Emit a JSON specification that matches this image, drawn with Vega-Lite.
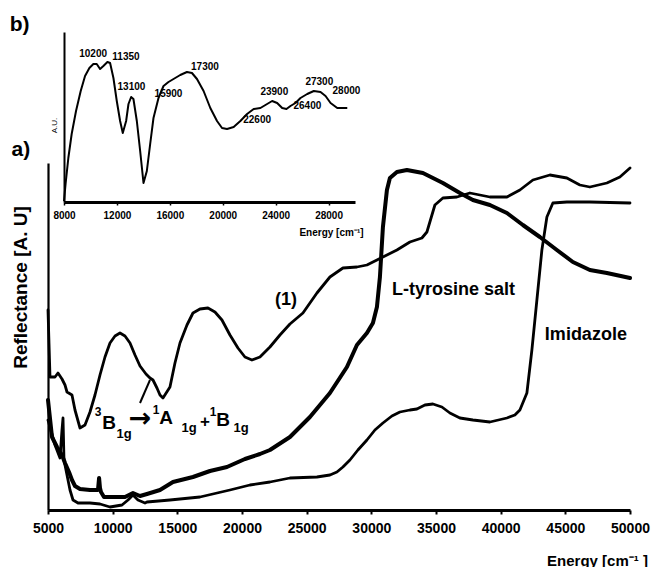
{
  "$schema": "https://vega.github.io/schema/vega-lite/v6.json",
  "width": 582,
  "height": 500,
  "autosize": {"type": "none"},
  "padding": {"left": 48, "top": 10, "right": 23, "bottom": 57},
  "background": "white",
  "config": {
    "view": {"stroke": null},
    "font": "Liberation Sans",
    "axis": {"grid": false, "domainColor": "black", "tickColor": "black", "labelColor": "black", "titleColor": "black", "labelFont": "Liberation Sans", "titleFont": "Liberation Sans"}
  },
  "datasets": {
    "main": [
      {"series": "(1)", "e": 5000, "r": 200}, {"series": "(1)", "e": 5155, "r": 133}, {"series": "(1)", "e": 5541, "r": 133}, {"series": "(1)", "e": 5773, "r": 137}, {"series": "(1)", "e": 6082, "r": 131}, {"series": "(1)", "e": 6314, "r": 125}, {"series": "(1)", "e": 6469, "r": 118}, {"series": "(1)", "e": 6855, "r": 115}, {"series": "(1)", "e": 7087, "r": 100}, {"series": "(1)", "e": 7474, "r": 82}, {"series": "(1)", "e": 7860, "r": 85}, {"series": "(1)", "e": 8247, "r": 98}, {"series": "(1)", "e": 8633, "r": 115}, {"series": "(1)", "e": 9020, "r": 135}, {"series": "(1)", "e": 9406, "r": 153}, {"series": "(1)", "e": 9793, "r": 167}, {"series": "(1)", "e": 10180, "r": 174}, {"series": "(1)", "e": 10566, "r": 177}, {"series": "(1)", "e": 10953, "r": 174}, {"series": "(1)", "e": 11340, "r": 167}, {"series": "(1)", "e": 11726, "r": 155}, {"series": "(1)", "e": 12113, "r": 144}, {"series": "(1)", "e": 12577, "r": 136}, {"series": "(1)", "e": 12885, "r": 132}, {"series": "(1)", "e": 13117, "r": 130}, {"series": "(1)", "e": 13426, "r": 122}, {"series": "(1)", "e": 13658, "r": 115}, {"series": "(1)", "e": 13890, "r": 112}, {"series": "(1)", "e": 14431, "r": 123}, {"series": "(1)", "e": 14817, "r": 147}, {"series": "(1)", "e": 15204, "r": 167}, {"series": "(1)", "e": 15745, "r": 185}, {"series": "(1)", "e": 16209, "r": 197}, {"series": "(1)", "e": 16750, "r": 201}, {"series": "(1)", "e": 17368, "r": 202}, {"series": "(1)", "e": 17909, "r": 198}, {"series": "(1)", "e": 18450, "r": 190}, {"series": "(1)", "e": 19069, "r": 175}, {"series": "(1)", "e": 19687, "r": 162}, {"series": "(1)", "e": 20228, "r": 153}, {"series": "(1)", "e": 20769, "r": 150}, {"series": "(1)", "e": 21388, "r": 153}, {"series": "(1)", "e": 22161, "r": 163}, {"series": "(1)", "e": 22934, "r": 175}, {"series": "(1)", "e": 23707, "r": 186}, {"series": "(1)", "e": 24712, "r": 197}, {"series": "(1)", "e": 25794, "r": 217}, {"series": "(1)", "e": 26799, "r": 233}, {"series": "(1)", "e": 27804, "r": 242}, {"series": "(1)", "e": 28886, "r": 243}, {"series": "(1)", "e": 29659, "r": 245}, {"series": "(1)", "e": 30432, "r": 250}, {"series": "(1)", "e": 30896, "r": 253}, {"series": "(1)", "e": 31978, "r": 260}, {"series": "(1)", "e": 32983, "r": 268}, {"series": "(1)", "e": 33910, "r": 272}, {"series": "(1)", "e": 34297, "r": 278}, {"series": "(1)", "e": 34915, "r": 305}, {"series": "(1)", "e": 35534, "r": 312}, {"series": "(1)", "e": 36616, "r": 313}, {"series": "(1)", "e": 37621, "r": 317}, {"series": "(1)", "e": 39167, "r": 313}, {"series": "(1)", "e": 40481, "r": 313}, {"series": "(1)", "e": 41486, "r": 320}, {"series": "(1)", "e": 42491, "r": 330}, {"series": "(1)", "e": 43806, "r": 335}, {"series": "(1)", "e": 45120, "r": 332}, {"series": "(1)", "e": 46124, "r": 325}, {"series": "(1)", "e": 46898, "r": 323}, {"series": "(1)", "e": 48212, "r": 327}, {"series": "(1)", "e": 49217, "r": 333}, {"series": "(1)", "e": 50000, "r": 342},
      {"series": "L-tyrosine salt", "e": 5000, "r": 110}, {"series": "L-tyrosine salt", "e": 5309, "r": 73}, {"series": "L-tyrosine salt", "e": 5696, "r": 63}, {"series": "L-tyrosine salt", "e": 6082, "r": 55}, {"series": "L-tyrosine salt", "e": 6314, "r": 47}, {"series": "L-tyrosine salt", "e": 6623, "r": 38}, {"series": "L-tyrosine salt", "e": 6855, "r": 30}, {"series": "L-tyrosine salt", "e": 7087, "r": 24}, {"series": "L-tyrosine salt", "e": 7474, "r": 21}, {"series": "L-tyrosine salt", "e": 8247, "r": 20}, {"series": "L-tyrosine salt", "e": 8865, "r": 20}, {"series": "L-tyrosine salt", "e": 8950, "r": 32}, {"series": "L-tyrosine salt", "e": 9020, "r": 22}, {"series": "L-tyrosine salt", "e": 9097, "r": 18}, {"series": "L-tyrosine salt", "e": 9329, "r": 13}, {"series": "L-tyrosine salt", "e": 10180, "r": 13}, {"series": "L-tyrosine salt", "e": 10953, "r": 13}, {"series": "L-tyrosine salt", "e": 11571, "r": 17}, {"series": "L-tyrosine salt", "e": 12113, "r": 14}, {"series": "L-tyrosine salt", "e": 12654, "r": 16}, {"series": "L-tyrosine salt", "e": 13658, "r": 20}, {"series": "L-tyrosine salt", "e": 14663, "r": 28}, {"series": "L-tyrosine salt", "e": 16209, "r": 33}, {"series": "L-tyrosine salt", "e": 17523, "r": 39}, {"series": "L-tyrosine salt", "e": 18837, "r": 43}, {"series": "L-tyrosine salt", "e": 20228, "r": 51}, {"series": "L-tyrosine salt", "e": 21388, "r": 56}, {"series": "L-tyrosine salt", "e": 22161, "r": 60}, {"series": "L-tyrosine salt", "e": 23707, "r": 73}, {"series": "L-tyrosine salt", "e": 25253, "r": 93}, {"series": "L-tyrosine salt", "e": 26799, "r": 117}, {"series": "L-tyrosine salt", "e": 28113, "r": 143}, {"series": "L-tyrosine salt", "e": 28886, "r": 165}, {"series": "L-tyrosine salt", "e": 29659, "r": 177}, {"series": "L-tyrosine salt", "e": 30123, "r": 187}, {"series": "L-tyrosine salt", "e": 30432, "r": 203}, {"series": "L-tyrosine salt", "e": 30664, "r": 233}, {"series": "L-tyrosine salt", "e": 30896, "r": 283}, {"series": "L-tyrosine salt", "e": 31205, "r": 320}, {"series": "L-tyrosine salt", "e": 31437, "r": 332}, {"series": "L-tyrosine salt", "e": 31978, "r": 338}, {"series": "L-tyrosine salt", "e": 32751, "r": 340}, {"series": "L-tyrosine salt", "e": 33988, "r": 337}, {"series": "L-tyrosine salt", "e": 35534, "r": 327}, {"series": "L-tyrosine salt", "e": 36848, "r": 317}, {"series": "L-tyrosine salt", "e": 37853, "r": 310}, {"series": "L-tyrosine salt", "e": 39167, "r": 305}, {"series": "L-tyrosine salt", "e": 40481, "r": 297}, {"series": "L-tyrosine salt", "e": 41718, "r": 285}, {"series": "L-tyrosine salt", "e": 43032, "r": 273}, {"series": "L-tyrosine salt", "e": 44346, "r": 260}, {"series": "L-tyrosine salt", "e": 45583, "r": 248}, {"series": "L-tyrosine salt", "e": 46898, "r": 240}, {"series": "L-tyrosine salt", "e": 48212, "r": 237}, {"series": "L-tyrosine salt", "e": 50000, "r": 232},
      {"series": "Imidazole", "e": 5000, "r": 90}, {"series": "Imidazole", "e": 5541, "r": 65}, {"series": "Imidazole", "e": 5927, "r": 52}, {"series": "Imidazole", "e": 6082, "r": 80}, {"series": "Imidazole", "e": 6160, "r": 92}, {"series": "Imidazole", "e": 6237, "r": 50}, {"series": "Imidazole", "e": 6469, "r": 35}, {"series": "Imidazole", "e": 6701, "r": 20}, {"series": "Imidazole", "e": 6933, "r": 10}, {"series": "Imidazole", "e": 7319, "r": 7}, {"series": "Imidazole", "e": 8247, "r": 7}, {"series": "Imidazole", "e": 9020, "r": 6}, {"series": "Imidazole", "e": 9793, "r": 3}, {"series": "Imidazole", "e": 10721, "r": 5}, {"series": "Imidazole", "e": 11185, "r": 10}, {"series": "Imidazole", "e": 11571, "r": 15}, {"series": "Imidazole", "e": 11958, "r": 10}, {"series": "Imidazole", "e": 12500, "r": 7}, {"series": "Imidazole", "e": 12654, "r": 8}, {"series": "Imidazole", "e": 14431, "r": 10}, {"series": "Imidazole", "e": 16750, "r": 13}, {"series": "Imidazole", "e": 19069, "r": 20}, {"series": "Imidazole", "e": 20614, "r": 25}, {"series": "Imidazole", "e": 22161, "r": 28}, {"series": "Imidazole", "e": 23707, "r": 32}, {"series": "Imidazole", "e": 25794, "r": 33}, {"series": "Imidazole", "e": 26799, "r": 35}, {"series": "Imidazole", "e": 27340, "r": 38}, {"series": "Imidazole", "e": 27804, "r": 43}, {"series": "Imidazole", "e": 28345, "r": 50}, {"series": "Imidazole", "e": 28963, "r": 60}, {"series": "Imidazole", "e": 29659, "r": 70}, {"series": "Imidazole", "e": 30277, "r": 80}, {"series": "Imidazole", "e": 30896, "r": 87}, {"series": "Imidazole", "e": 31591, "r": 94}, {"series": "Imidazole", "e": 32210, "r": 98}, {"series": "Imidazole", "e": 32983, "r": 100}, {"series": "Imidazole", "e": 33524, "r": 101}, {"series": "Imidazole", "e": 34142, "r": 105}, {"series": "Imidazole", "e": 34761, "r": 106}, {"series": "Imidazole", "e": 35456, "r": 103}, {"series": "Imidazole", "e": 36075, "r": 97}, {"series": "Imidazole", "e": 36848, "r": 92}, {"series": "Imidazole", "e": 37853, "r": 90}, {"series": "Imidazole", "e": 39167, "r": 88}, {"series": "Imidazole", "e": 40481, "r": 92}, {"series": "Imidazole", "e": 41100, "r": 95}, {"series": "Imidazole", "e": 41486, "r": 100}, {"series": "Imidazole", "e": 42028, "r": 117}, {"series": "Imidazole", "e": 42414, "r": 160}, {"series": "Imidazole", "e": 42801, "r": 210}, {"series": "Imidazole", "e": 43187, "r": 260}, {"series": "Imidazole", "e": 43574, "r": 293}, {"series": "Imidazole", "e": 44037, "r": 307}, {"series": "Imidazole", "e": 45120, "r": 308}, {"series": "Imidazole", "e": 46898, "r": 308}, {"series": "Imidazole", "e": 50000, "r": 307}
    ],
    "labels": [
      {"t": "(1)", "e": 22547, "r": 210},
      {"t": "L-tyrosine salt", "e": 31591, "r": 220},
      {"t": "Imidazole", "e": 43418, "r": 175}
    ],
    "panels": [
      {"t": "a)", "e": 2900, "r": 360},
      {"t": "b)", "e": 2800, "r": 485}
    ],
    "leader": [
      {"e": 12113, "r": 107, "e2": 12885, "r2": 130}
    ],
    "trans": [
      {"e": 8865, "r": 90}
    ],
    "inset": [
      {"e": 8000, "a": 1}, {"e": 8126, "a": 19}, {"e": 8328, "a": 44}, {"e": 8580, "a": 68}, {"e": 8909, "a": 91}, {"e": 9263, "a": 111}, {"e": 9591, "a": 126}, {"e": 9919, "a": 134}, {"e": 10222, "a": 138}, {"e": 10475, "a": 138}, {"e": 10727, "a": 133}, {"e": 10977, "a": 136}, {"e": 11283, "a": 140}, {"e": 11485, "a": 139}, {"e": 11737, "a": 124}, {"e": 11990, "a": 101}, {"e": 12242, "a": 81}, {"e": 12444, "a": 69}, {"e": 12697, "a": 81}, {"e": 12874, "a": 98}, {"e": 13076, "a": 105}, {"e": 13250, "a": 103}, {"e": 13506, "a": 81}, {"e": 13758, "a": 51}, {"e": 14010, "a": 19}, {"e": 14263, "a": 31}, {"e": 14515, "a": 58}, {"e": 14765, "a": 84}, {"e": 15144, "a": 104}, {"e": 15523, "a": 116}, {"e": 15900, "a": 120}, {"e": 16280, "a": 123}, {"e": 16788, "a": 127}, {"e": 17295, "a": 130}, {"e": 17674, "a": 129}, {"e": 18053, "a": 123}, {"e": 18553, "a": 111}, {"e": 19061, "a": 94}, {"e": 19568, "a": 81}, {"e": 19947, "a": 74}, {"e": 20326, "a": 73}, {"e": 20826, "a": 75}, {"e": 21333, "a": 81}, {"e": 21841, "a": 88}, {"e": 22341, "a": 93}, {"e": 22848, "a": 94}, {"e": 23356, "a": 98}, {"e": 23735, "a": 101}, {"e": 24114, "a": 99}, {"e": 24495, "a": 94}, {"e": 24818, "a": 93}, {"e": 25121, "a": 96}, {"e": 25500, "a": 99}, {"e": 25879, "a": 104}, {"e": 26386, "a": 108}, {"e": 26886, "a": 111}, {"e": 27394, "a": 110}, {"e": 27773, "a": 106}, {"e": 28152, "a": 99}, {"e": 28659, "a": 94}, {"e": 29038, "a": 94}, {"e": 29416, "a": 94}
    ],
    "peaks": [
      {"e": 10200, "a": 138, "side": "above"},
      {"e": 11350, "a": 140, "side": "right"},
      {"e": 13100, "a": 105, "side": "above"},
      {"e": 15900, "a": 120, "side": "below"},
      {"e": 17300, "a": 130, "side": "right"},
      {"e": 22600, "a": 94, "side": "below"},
      {"e": 23900, "a": 100, "side": "above"},
      {"e": 26400, "a": 108, "side": "below"},
      {"e": 27300, "a": 110, "side": "above"},
      {"e": 28000, "a": 106, "side": "right"}
    ]
  },
  "layer": [
    {
      "layer": [
        {
          "data": {"name": "main"},
          "transform": [{"filter": "datum.series !== 'L-tyrosine salt'"}],
          "mark": {"type": "line", "color": "black", "strokeWidth": 2.8, "strokeJoin": "round", "strokeCap": "round"},
          "encoding": {
            "x": {"field": "e", "type": "quantitative", "scale": {"domain": [5000, 50000], "nice": false, "zero": false},
              "axis": {"orient": "bottom", "values": [5000, 10000, 15000, 20000, 25000, 30000, 35000, 40000, 45000, 50000], "format": "d", "domainWidth": 2.8, "tickWidth": 2, "tickSize": 4, "labelFontSize": 14, "labelFontWeight": "bold", "labelPadding": 7, "labelFlush": false, "labelOverlap": false,
                "title": "Energy [cm⁻¹ ]", "titleFontSize": 15, "titleFontWeight": "bold", "titleX": 549, "titleY": 50, "titleAlign": "center", "titleBaseline": "middle"}},
            "y": {"field": "r", "type": "quantitative", "scale": {"domain": [0, 347], "range": [500, 153], "nice": false, "zero": false},
              "axis": {"orient": "left", "ticks": false, "labels": false, "domainWidth": 2.2,
                "title": "Reflectance [A. U]", "titleFontSize": 19, "titleFontWeight": "bold", "titleX": -28, "titleY": 277, "titleAlign": "center", "titleBaseline": "middle", "titleAngle": 270}},
            "detail": {"field": "series", "type": "nominal"}
          }
        },
        {
          "data": {"name": "main"},
          "transform": [{"filter": "datum.series === 'L-tyrosine salt'"}],
          "mark": {"type": "line", "color": "black", "strokeWidth": 4, "strokeJoin": "round", "strokeCap": "round"},
          "encoding": {
            "x": {"field": "e", "type": "quantitative"},
            "y": {"field": "r", "type": "quantitative"},
            "detail": {"field": "series", "type": "nominal"}
          }
        },
        {
          "data": {"name": "leader"},
          "mark": {"type": "rule", "color": "black", "strokeWidth": 2},
          "encoding": {
            "x": {"field": "e", "type": "quantitative"},
            "y": {"field": "r", "type": "quantitative"},
            "x2": {"field": "e2"},
            "y2": {"field": "r2"}
          }
        },
        {
          "data": {"name": "labels"},
          "mark": {"type": "text", "font": "Liberation Sans", "fontWeight": "bold", "fontSize": 18, "align": "left", "baseline": "middle", "color": "black"},
          "encoding": {
            "x": {"field": "e", "type": "quantitative"},
            "y": {"field": "r", "type": "quantitative"},
            "text": {"field": "t"}
          }
        },
        {
          "data": {"name": "panels"},
          "mark": {"type": "text", "font": "Liberation Sans", "fontWeight": "bold", "fontSize": 21, "align": "center", "baseline": "middle", "color": "black"},
          "encoding": {
            "x": {"field": "e", "type": "quantitative"},
            "y": {"field": "r", "type": "quantitative"},
            "text": {"field": "t"}
          }
        },
        {"data": {"name": "trans"}, "mark": {"type": "text", "fontWeight": "bold", "fontSize": 12, "dx": 0, "dy": -8, "align": "center", "baseline": "middle", "color": "black"}, "encoding": {"x": {"field": "e", "type": "quantitative"}, "y": {"field": "r", "type": "quantitative"}, "text": {"value": "3"}}},
        {"data": {"name": "trans"}, "mark": {"type": "text", "fontWeight": "bold", "fontSize": 19, "dx": 11, "dy": 3, "align": "center", "baseline": "middle", "color": "black"}, "encoding": {"x": {"field": "e", "type": "quantitative"}, "y": {"field": "r", "type": "quantitative"}, "text": {"value": "B"}}},
        {"data": {"name": "trans"}, "mark": {"type": "text", "fontWeight": "bold", "fontSize": 13, "dx": 26, "dy": 14, "align": "center", "baseline": "middle", "color": "black"}, "encoding": {"x": {"field": "e", "type": "quantitative"}, "y": {"field": "r", "type": "quantitative"}, "text": {"value": "1g"}}},
        {"data": {"name": "trans"}, "mark": {"type": "text", "font": "DejaVu Sans", "fontWeight": "bold", "fontSize": 27, "dx": 42, "dy": -1, "align": "center", "baseline": "middle", "color": "black"}, "encoding": {"x": {"field": "e", "type": "quantitative"}, "y": {"field": "r", "type": "quantitative"}, "text": {"value": "→"}}},
        {"data": {"name": "trans"}, "mark": {"type": "text", "fontWeight": "bold", "fontSize": 12, "dx": 58, "dy": -10, "align": "center", "baseline": "middle", "color": "black"}, "encoding": {"x": {"field": "e", "type": "quantitative"}, "y": {"field": "r", "type": "quantitative"}, "text": {"value": "1"}}},
        {"data": {"name": "trans"}, "mark": {"type": "text", "fontWeight": "bold", "fontSize": 19, "dx": 68, "dy": -2, "align": "center", "baseline": "middle", "color": "black"}, "encoding": {"x": {"field": "e", "type": "quantitative"}, "y": {"field": "r", "type": "quantitative"}, "text": {"value": "A"}}},
        {"data": {"name": "trans"}, "mark": {"type": "text", "fontWeight": "bold", "fontSize": 13, "dx": 91, "dy": 8, "align": "center", "baseline": "middle", "color": "black"}, "encoding": {"x": {"field": "e", "type": "quantitative"}, "y": {"field": "r", "type": "quantitative"}, "text": {"value": "1g"}}},
        {"data": {"name": "trans"}, "mark": {"type": "text", "fontWeight": "bold", "fontSize": 17, "dx": 107, "dy": 2, "align": "center", "baseline": "middle", "color": "black"}, "encoding": {"x": {"field": "e", "type": "quantitative"}, "y": {"field": "r", "type": "quantitative"}, "text": {"value": "+"}}},
        {"data": {"name": "trans"}, "mark": {"type": "text", "fontWeight": "bold", "fontSize": 12, "dx": 115, "dy": -8, "align": "center", "baseline": "middle", "color": "black"}, "encoding": {"x": {"field": "e", "type": "quantitative"}, "y": {"field": "r", "type": "quantitative"}, "text": {"value": "1"}}},
        {"data": {"name": "trans"}, "mark": {"type": "text", "fontWeight": "bold", "fontSize": 19, "dx": 125, "dy": 0, "align": "center", "baseline": "middle", "color": "black"}, "encoding": {"x": {"field": "e", "type": "quantitative"}, "y": {"field": "r", "type": "quantitative"}, "text": {"value": "B"}}},
        {"data": {"name": "trans"}, "mark": {"type": "text", "fontWeight": "bold", "fontSize": 13, "dx": 143, "dy": 8, "align": "center", "baseline": "middle", "color": "black"}, "encoding": {"x": {"field": "e", "type": "quantitative"}, "y": {"field": "r", "type": "quantitative"}, "text": {"value": "1g"}}}
      ]
    },
    {
      "layer": [
        {
          "data": {"name": "inset"},
          "mark": {"type": "line", "color": "black", "strokeWidth": 2, "strokeJoin": "round"},
          "encoding": {
            "x": {"field": "e", "type": "quantitative", "scale": {"domain": [8000, 30000], "range": [16, 307], "nice": false, "zero": false},
              "axis": {"orient": "bottom", "offset": -308, "values": [8000, 12000, 16000, 20000, 24000, 28000], "format": "d", "domainWidth": 2.8, "tickWidth": 1.5, "tickSize": 3, "labelFontSize": 10, "labelFontWeight": "bold", "labelPadding": 5, "labelFlush": false, "labelOverlap": false,
                "title": "Energy [cm⁻¹]", "titleFontSize": 10, "titleFontWeight": "bold", "titleX": 283, "titleY": 30, "titleAlign": "center", "titleBaseline": "middle"}},
            "y": {"field": "a", "type": "quantitative", "scale": {"domain": [0, 170], "range": [192, 22], "nice": false, "zero": false},
              "axis": {"orient": "left", "offset": -16, "ticks": false, "labels": false, "domainWidth": 2,
                "title": "A.U.", "titleFontSize": 8, "titleFontWeight": "normal", "titleX": -10, "titleY": 115, "titleAlign": "center", "titleBaseline": "middle", "titleAngle": 270}}
          }
        },
        {
          "data": {"name": "peaks"},
          "transform": [{"filter": "datum.side === 'above'"}],
          "mark": {"type": "text", "fontWeight": "bold", "fontSize": 10, "align": "center", "baseline": "middle", "dy": -10, "color": "black"},
          "encoding": {"x": {"field": "e", "type": "quantitative"}, "y": {"field": "a", "type": "quantitative"}, "text": {"field": "e", "type": "quantitative", "format": "d"}}
        },
        {
          "data": {"name": "peaks"},
          "transform": [{"filter": "datum.side === 'below'"}],
          "mark": {"type": "text", "fontWeight": "bold", "fontSize": 10, "align": "center", "baseline": "middle", "dy": 12, "color": "black"},
          "encoding": {"x": {"field": "e", "type": "quantitative"}, "y": {"field": "a", "type": "quantitative"}, "text": {"field": "e", "type": "quantitative", "format": "d"}}
        },
        {
          "data": {"name": "peaks"},
          "transform": [{"filter": "datum.side === 'right'"}],
          "mark": {"type": "text", "fontWeight": "bold", "fontSize": 10, "align": "left", "baseline": "middle", "dx": 4, "dy": -5, "color": "black"},
          "encoding": {"x": {"field": "e", "type": "quantitative"}, "y": {"field": "a", "type": "quantitative"}, "text": {"field": "e", "type": "quantitative", "format": "d"}}
        }
      ]
    }
  ],
  "resolve": {"scale": {"x": "independent", "y": "independent"}, "axis": {"x": "independent", "y": "independent"}}
}
